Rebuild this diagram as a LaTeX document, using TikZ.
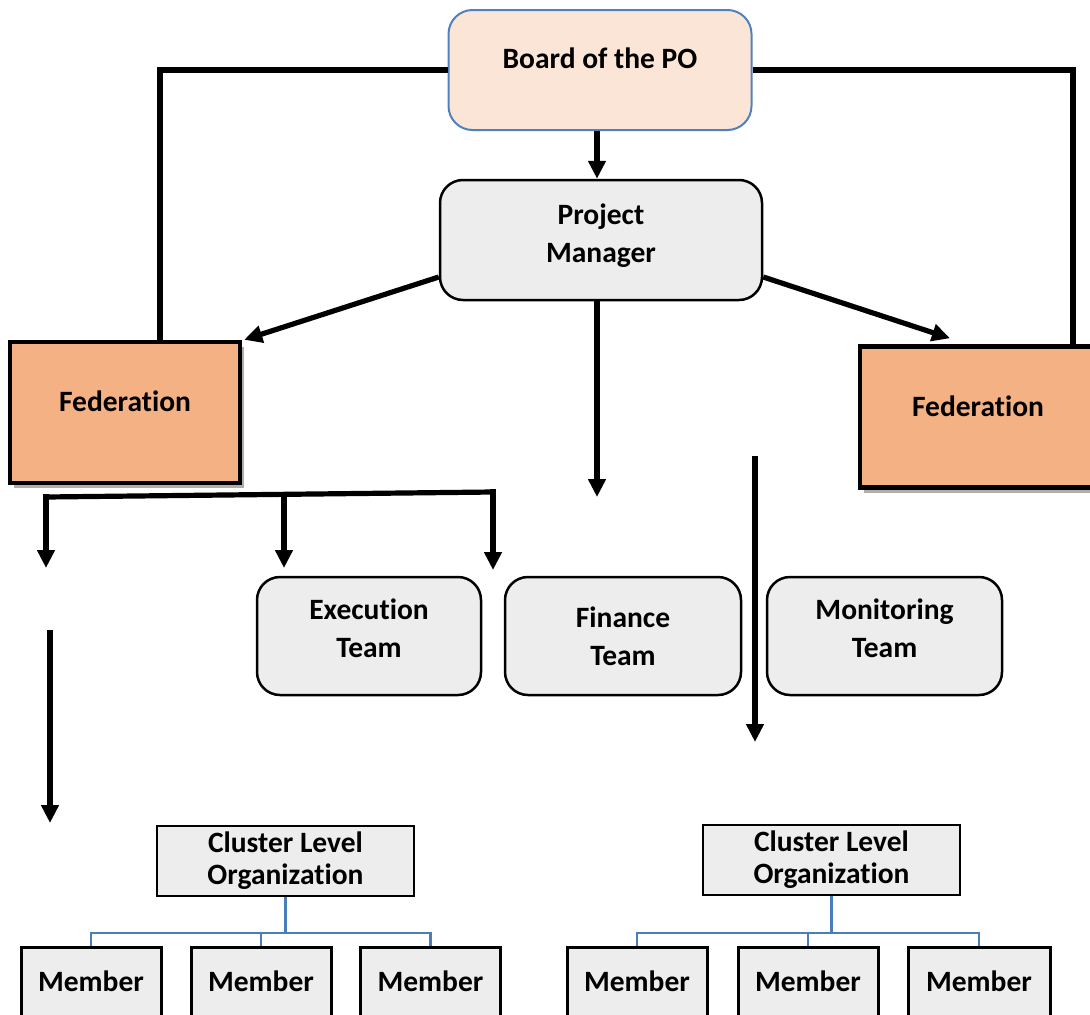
\documentclass[tikz,border=0pt]{standalone}
\usepackage{fontspec}
\setmainfont{Carlito}[Ligatures=NoCommon]
\usetikzlibrary{arrows.meta,shadows}
\definecolor{peach}{HTML}{FBE5D6}
\definecolor{boardblue}{HTML}{4F81BD}
\definecolor{fedfill}{HTML}{F4B183}
\definecolor{boxgray}{HTML}{EDEDED}
\definecolor{linkblue}{HTML}{4A7EBB}
\newcommand\uptext[2]{\raisebox{#1}[\height][\depth]{\begin{tabular}{@{}c@{}}#2\end{tabular}}}
\begin{document}
\begin{tikzpicture}[x=1pt,y=-1pt,
  every node/.style={font=\fontsize{29.5}{38.5}\selectfont\bfseries, align=center, inner sep=0pt},
  conn/.style={line width=5.2pt, draw=black, line join=miter},
  arr/.style={conn, -{Triangle[width=17pt,length=18pt]}},
  boardbox/.style={draw=boardblue, line width=2pt, fill=peach, rounded corners=24pt,
    minimum width=303pt, minimum height=120pt, text height=20pt, text depth=24pt},
  graybox/.style={draw=black, line width=2.5pt, fill=boxgray, rounded corners=23pt},
  fedbox/.style={draw=black, line width=4.5pt, fill=fedfill,
    drop shadow={shadow xshift=4pt, shadow yshift=-5pt, opacity=0.45, fill=black!70},
    minimum height=141pt, text height=20pt, text depth=22pt},
  clbox/.style={draw=black, line width=2.5pt, fill=boxgray, minimum width=257pt, minimum height=70pt,
    font=\fontsize{29.5}{32}\selectfont\bfseries},
  memberbox/.style={draw=black, line width=3pt, fill=boxgray, minimum width=140pt, minimum height=93pt,
    text height=20pt, text depth=25pt},
  bluelink/.style={draw=linkblue, line width=2.2pt}
]
\useasboundingbox (0,0) rectangle (1090,1015);
\clip (0,0) rectangle (1090,1015);

% main nodes
\node[boardbox] (board) at (600,70) {Board of the PO};
\node[graybox, minimum width=322pt, minimum height=120pt] (pm) at (601,240) {\uptext{4pt}{Project\\Manager}};
\node[fedbox, minimum width=230pt] (fedL) at (125,412.5) {Federation};
\node[fedbox, minimum width=236pt] (fedR) at (978,417) {Federation};

\node[graybox, minimum width=224pt, minimum height=118pt] (exec) at (369,636) {\uptext{5pt}{Execution\\Team}};
\node[graybox, minimum width=236pt, minimum height=118pt] (fin) at (623,636) {Finance\\Team};
\node[graybox, minimum width=235pt, minimum height=118pt] (mon) at (884.5,636) {\uptext{5pt}{Monitoring\\Team}};

\node[clbox] (clL) at (285.5,861) {Cluster Level\\Organization};
\node[clbox] (clR) at (831.5,860) {Cluster Level\\Organization};

\node[memberbox] (m1) at (91,993.5) {Member};
\node[memberbox] (m2) at (261,993.5) {Member};
\node[memberbox] (m3) at (430.5,993.5) {Member};
\node[memberbox] (m4) at (637,993.5) {Member};
\node[memberbox] (m5) at (808,993.5) {Member};
\node[memberbox, minimum width=142pt] (m6) at (979,993.5) {Member};

% board connections
\draw[conn] (board.west) -| ([xshift=35pt]fedL.north);
\draw[conn] (board.east) -| ([xshift=95pt]fedR.north);
\draw[arr] ([xshift=-3pt]board.south) -- ([xshift=-3pt]board.south |- pm.north);

% project manager connections
\draw[arr] ([yshift=-37pt]pm.west) -- ([xshift=2pt]fedL.north east);
\draw[arr] ([yshift=-37pt]pm.east) -- ([xshift=-28pt,yshift=6pt]fedR.north);
\coordinate (pmdown) at (597,497);
\draw[arr] (pm.south -| pmdown) -- (pmdown);

% free arrows
\coordinate (r1) at (755,456);
\coordinate (r2) at (755,742);
\draw[arr] (r1) -- (r2);
\coordinate (l1) at (50,630);
\coordinate (l2) at (50,823);
\draw[arr] (l1) -- (l2);

% federation bracket
\coordinate (br0) at (46,497);
\coordinate (br1) at (493,492);
\coordinate (brm) at (284,494.5);
\coordinate (t0) at (46,568);
\coordinate (tm) at (284,568);
\coordinate (t1) at (493,570);
\draw[conn] (br0) -- (br1);
\draw[arr] ([yshift=2.6pt]br0) -- (t0);
\draw[arr] (brm) -- (tm);
\draw[arr] ([yshift=2.6pt]br1) -- (t1);

% cluster trees
\path (clL.south) ++(0,36) coordinate (busL);
\draw[bluelink] (clL.south) -- (busL);
\draw[bluelink] (m1.north) |- (busL) -| (m3.north);
\draw[bluelink] (busL -| m2.north) -- (m2.north);

\path (clR.south) ++(0,37) coordinate (busR);
\draw[bluelink] (clR.south) -- (busR);
\draw[bluelink] (m4.north) |- (busR) -| (m6.north);
\draw[bluelink] (busR -| m5.north) -- (m5.north);
\end{tikzpicture}
\end{document}
